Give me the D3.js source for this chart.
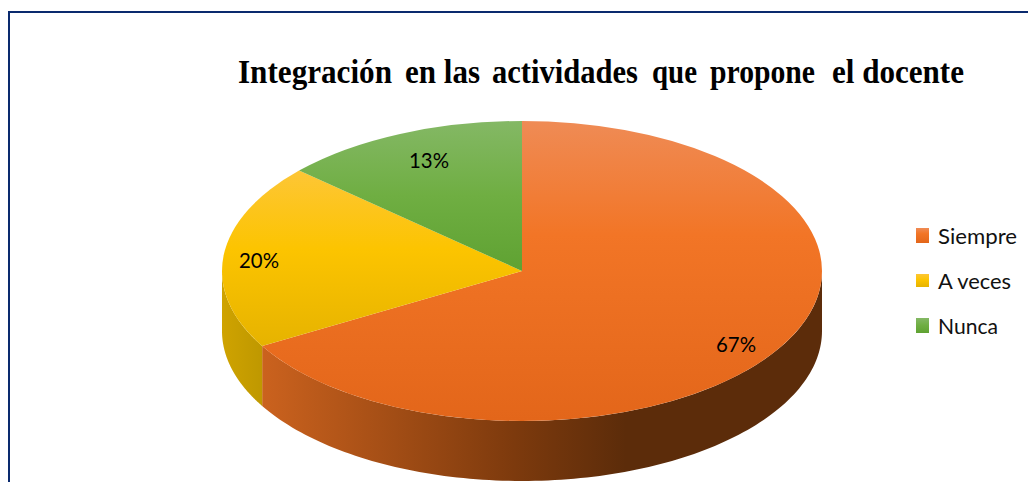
<!DOCTYPE html>
<html><head><meta charset="utf-8">
<script src="https://cdn.jsdelivr.net/npm/d3@7/dist/d3.min.js"></script>
<style>html,body{margin:0;padding:0;background:#fff;overflow:hidden}svg{display:block}</style>
</head><body>
<svg id="c" width="1028" height="482"></svg>
<script>
const titleWords = ["Integración","en las","actividades","que","propone","el docente"];
const categories = ["Siempre","A veces","Nunca"];
const values = [66.67,20,13.33];
const labels = ["67%","20%","13%"];
const topColors = [["#ef8b55","#f27526","#e3661a"],["#fdc636","#fcc400","#e6b300"],["#84b865","#6fae42","#5fa232"]];
const midStops = [0.38,0.45,0.5];
const sideStops = [
  [[0,"#cb621e"],[0.45,"#7d3a0d"],[0.65,"#5c2c0a"],[1,"#5c2c0a"]],
  [[0,"#cfa300"],[1,"#bf9800"]],
  [[0,"#5a8a2a"],[1,"#4a7a20"]]
];

const svg = d3.select("#c");
const defs = svg.append("defs");
const cx=522, cy=271, rx=300, ry=150, depth=60;

svg.append("path").attr("d","M9,482V12H1028").attr("fill","none").attr("stroke","#0a2a6e").attr("stroke-width",2);

const titleText = svg.append("text").attr("y",83).attr("font-family","'Liberation Serif'").attr("font-weight",700).attr("font-size",33).attr("fill","#000");
const wordX=[238,405,492,652,710,832];
const wordW=[154,75,146,45,105,132];
titleWords.forEach((w,i)=>titleText.append("tspan").attr("x",wordX[i]).attr("textLength",wordW[i]).attr("lengthAdjust","spacingAndGlyphs").text(w));

const pie = d3.pie().sort(null).value(d=>d);
const arcs = pie(values);

function faceGradient(id,i){
  const g = defs.append("linearGradient").attr("id",id).attr("x1",0).attr("y1",0).attr("x2",0).attr("y2",1);
  [0,midStops[i],1].forEach((o,j)=>g.append("stop").attr("offset",o).attr("stop-color",topColors[i][j]));
}
arcs.forEach((a,i)=>{
  faceGradient("top"+i,i);
  const s = defs.append("linearGradient").attr("id","side"+i).attr("gradientUnits","userSpaceOnUse")
    .attr("x1",i==0?262:222).attr("x2",i==0?822:262).attr("y1",0).attr("y2",0);
  sideStops[i].forEach(st=>s.append("stop").attr("offset",st[0]).attr("stop-color",st[1]));
});

const px = a=>cx+rx*Math.sin(a), py = a=>cy-ry*Math.cos(a);
const wall = d3.area().x(a=>px(a)).y0(a=>py(a)).y1(a=>py(a)+depth);
arcs.forEach((a,i)=>{
  const s=Math.max(a.startAngle,Math.PI/2), e=Math.min(a.endAngle,3*Math.PI/2);
  if(e<=s) return;
  const steps=d3.range(s,e,(e-s)/120).concat([e]);
  svg.append("path").attr("d",wall(steps)).attr("fill",`url(#side${i})`);
});

const arc = d3.arc().innerRadius(0).outerRadius(rx);
const topG = svg.append("g").attr("transform",`translate(${cx},${cy}) scale(1,${ry/rx})`);
topG.selectAll("path").data(arcs).join("path").attr("d",arc).attr("fill",(d,i)=>`url(#top${i})`);

const labelPos=[[736,345],[259,261],[429,161]];
const dl = svg.append("g").attr("font-family","Lato").attr("font-size",21).attr("fill","#000").attr("text-anchor","middle");
labels.forEach((t,i)=>dl.append("text").attr("x",labelPos[i][0]).attr("y",labelPos[i][1]+7).attr("textLength",40).attr("lengthAdjust","spacingAndGlyphs").text(t));

const legRectY=[228,274,318], legRectH=[15,13,15];
const legTextY=[244,289,334];
const legW=[79,73,60];
const leg = svg.append("g");
categories.forEach((c,i)=>{
  faceGradient("leg"+i,i);
  leg.append("rect").attr("x",916).attr("y",legRectY[i]).attr("width",13).attr("height",legRectH[i]).attr("fill",`url(#leg${i})`);
  leg.append("text").attr("x",938).attr("y",legTextY[i]).attr("font-family","Lato").attr("font-size",21).attr("fill","#111")
    .attr("textLength",legW[i]).attr("lengthAdjust","spacingAndGlyphs").text(c);
});
</script>
</body></html>
